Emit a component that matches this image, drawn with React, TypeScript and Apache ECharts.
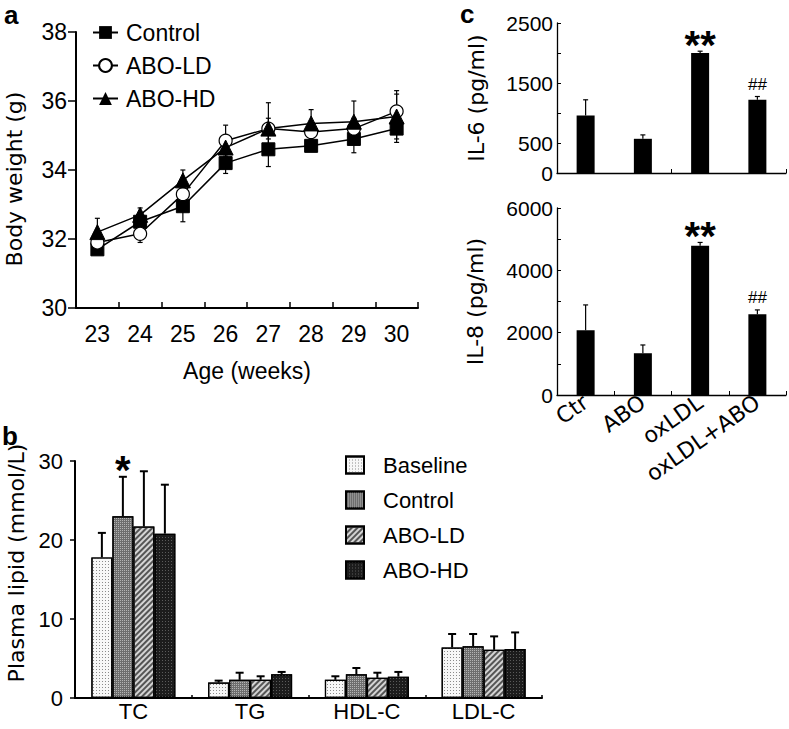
import React, { useEffect, useRef } from 'react';
import * as echarts from 'echarts';

// ---------- Panel a: body weight ----------
const weeks = ['23', '24', '25', '26', '27', '28', '29', '30'];
const controlWeight = [31.7, 32.5, 32.95, 34.2, 34.6, 34.7, 34.9, 35.2];
const controlWeightSd = [0.1, 0.15, 0.45, 0.3, 0.5, 0.15, 0.4, 0.3];
const ldWeight = [31.9, 32.15, 33.3, 34.85, 35.2, 35.1, 35.2, 35.7];
const ldWeightSd = [0.1, 0.25, 0.2, 0.45, 0.75, 0.2, 0.3, 0.5];
const hdWeight = [32.2, 32.7, 33.7, 34.65, 35.2, 35.35, 35.4, 35.55];
const hdWeightSd = [0.4, 0.2, 0.3, 0.3, 0.3, 0.4, 0.6, 0.75];

// ---------- Panel b: plasma lipid ----------
const lipidCats = ['TC', 'TG', 'HDL-C', 'LDL-C'];
const lipidGroups = ['Baseline', 'Control', 'ABO-LD', 'ABO-HD'];
const baselineLipid = [17.8, 1.95, 2.3, 6.4];
const baselineLipidSd = [3.1, 0.25, 0.45, 1.7];
const controlLipid = [23.0, 2.3, 3.0, 6.55];
const controlLipidSd = [5.0, 0.9, 0.8, 1.55];
const ldLipid = [21.7, 2.3, 2.55, 6.1];
const ldLipidSd = [7.0, 0.45, 0.65, 1.7];
const hdLipid = [20.8, 3.0, 2.7, 6.2];
const hdLipidSd = [6.2, 0.3, 0.6, 2.1];
const controlLipidMarks = ['*', '', '', ''];

// ---------- Panel c: cytokines ----------
const ilCats = ['Ctr', 'ABO', 'oxLDL', 'oxLDL+ABO'];
const il6 = [960, 570, 2000, 1220];
const il6Sd = [260, 65, 30, 55];
const il8 = [2080, 1340, 4790, 2590];
const il8Sd = [810, 265, 105, 140];
const ilMarks = ['', '', '**', '##'];

const il6TickLabels = [0, 500, 1500, 2500];
const il8TickLabels = [0, 2000, 4000, 6000];

const FONT = 'Liberation Sans, Arial, Helvetica, sans-serif';
const WIDE = 'DejaVu Sans, sans-serif';

const markStyles: Record<string, { size: number; weight: string; gap: number }> = {
  '*': { size: 40, weight: 'bold', gap: 7 },
  '**': { size: 40, weight: 'bold', gap: 6 },
  '##': { size: 17, weight: 'normal', gap: 12 },
};

function errorBars(opts: { both: boolean; cap: number; width: number; offset: number; marks?: string[] }) {
  return (params: any, api: any) => {
    const i = api.value(0);
    const v = api.value(1);
    const e = api.value(2);
    const top = api.coord([i, v + e]);
    const low = api.coord([i, opts.both ? v - e : v]);
    const x = top[0] + opts.offset;
    const st = { stroke: '#000', lineWidth: opts.width };
    const children: any[] = [
      { type: 'line', shape: { x1: x, y1: top[1], x2: x, y2: low[1] }, style: st },
      { type: 'line', shape: { x1: x - opts.cap / 2, y1: top[1], x2: x + opts.cap / 2, y2: top[1] }, style: st },
    ];
    if (opts.both) {
      children.push({ type: 'line', shape: { x1: x - opts.cap / 2, y1: low[1], x2: x + opts.cap / 2, y2: low[1] }, style: st });
    }
    const m = opts.marks ? opts.marks[params.dataIndex] : '';
    if (m) {
      const ms = markStyles[m];
      children.push({
        type: 'text',
        x,
        y: top[1] - ms.gap,
        style: { text: m, fill: '#000', fontSize: ms.size, fontWeight: ms.weight, fontFamily: FONT, align: 'center', verticalAlign: 'middle' },
      });
    }
    return { type: 'group', children };
  };
}

const triples = (vals: number[], sd: number[]) => vals.map((v, i) => [i, v, sd[i]]);

function buildOption(): any {
  const axisLineA = { show: true, lineStyle: { color: '#000', width: 2 } };
  const axisLineC = { show: true, lineStyle: { color: '#000', width: 1.3 } };

  const lipidData = [baselineLipid, controlLipid, ldLipid, hdLipid];
  const lipidSd = [baselineLipidSd, controlLipidSd, ldLipidSd, hdLipidSd];
  const lipidStyles = [
    { color: '#f7f7f7', decal: { symbol: 'rect', dashArrayX: [1, 2], dashArrayY: [1, 2], color: '#8a8a8a' } },
    { color: '#6e6e6e', decal: { symbol: 'rect', dashArrayX: [1, 1], dashArrayY: [1, 1], color: '#b4b4b4' } },
    { color: '#d4d4d4', decal: { symbol: 'rect', dashArrayX: [1, 0], dashArrayY: [2, 2], rotation: -Math.PI / 4, color: '#555555' } },
    { color: '#1c1c1c', decal: { symbol: 'rect', dashArrayX: [1, 2], dashArrayY: [1, 2], color: '#5a5a5a' } },
  ];
  const barW = 21;

  const series: any[] = [];

  // Panel a error bars (beneath markers)
  [controlWeightSd, ldWeightSd, hdWeightSd].forEach((sd, k) => {
    const vals = [controlWeight, ldWeight, hdWeight][k];
    series.push({
      type: 'custom', name: 'err-a-' + k, xAxisIndex: 0, yAxisIndex: 0, z: 2,
      renderItem: errorBars({ both: true, cap: 5, width: 1.2, offset: 0 }),
      encode: { x: 0, y: 1 }, data: triples(vals, sd),
    });
  });
  series.push(
    {
      type: 'line', name: 'Control', xAxisIndex: 0, yAxisIndex: 0, z: 4, data: controlWeight,
      symbol: 'rect', symbolSize: 13, lineStyle: { color: '#000', width: 1.5 }, itemStyle: { color: '#000', borderColor: '#000' },
    },
    {
      type: 'line', name: 'ABO-LD', xAxisIndex: 0, yAxisIndex: 0, z: 4, data: ldWeight,
      symbol: 'circle', symbolSize: 13, lineStyle: { color: '#000', width: 1.5 }, itemStyle: { color: '#fff', borderColor: '#000', borderWidth: 1.2 },
    },
    {
      type: 'line', name: 'ABO-HD', xAxisIndex: 0, yAxisIndex: 0, z: 4, data: hdWeight,
      symbol: 'triangle', symbolSize: 15, lineStyle: { color: '#000', width: 1.5 }, itemStyle: { color: '#000', borderColor: '#000' },
    },
  );

  // Panel c
  series.push(
    { type: 'bar', name: 'IL-6', xAxisIndex: 1, yAxisIndex: 1, data: il6, barWidth: 18, itemStyle: { color: '#000' } },
    {
      type: 'custom', name: 'err-il6', xAxisIndex: 1, yAxisIndex: 1, z: 5,
      renderItem: errorBars({ both: false, cap: 5, width: 1.2, offset: 0, marks: ilMarks }),
      encode: { x: 0, y: 1 }, data: triples(il6, il6Sd),
    },
    { type: 'bar', name: 'IL-8', xAxisIndex: 2, yAxisIndex: 2, data: il8, barWidth: 18, itemStyle: { color: '#000' } },
    {
      type: 'custom', name: 'err-il8', xAxisIndex: 2, yAxisIndex: 2, z: 5,
      renderItem: errorBars({ both: false, cap: 5, width: 1.2, offset: 0, marks: ilMarks }),
      encode: { x: 0, y: 1 }, data: triples(il8, il8Sd),
    },
  );

  // Panel b
  lipidGroups.forEach((g, k) => {
    series.push({
      type: 'bar', name: 'b:' + g, xAxisIndex: 3, yAxisIndex: 3, data: lipidData[k],
      barWidth: barW, barGap: '0%',
      itemStyle: { ...lipidStyles[k], borderColor: '#000', borderWidth: 1.2 },
    });
  });
  lipidGroups.forEach((g, k) => {
    series.push({
      type: 'custom', name: 'err-b-' + k, xAxisIndex: 3, yAxisIndex: 3, z: 5,
      renderItem: errorBars({ both: false, cap: 8, width: 2, offset: (k - 1.5) * barW, marks: k === 1 ? controlLipidMarks : undefined }),
      encode: { x: 0, y: 1 }, data: triples(lipidData[k], lipidSd[k]),
    });
  });

  return {
    animation: false,
    backgroundColor: '#fff',
    textStyle: { fontFamily: FONT, color: '#000' },
    grid: [
      { left: 76, top: 32, width: 342, height: 276, outerBoundsMode: 'none' },
      { left: 557, top: 23, width: 229, height: 150, outerBoundsMode: 'none' },
      { left: 557, top: 208, width: 229, height: 187, outerBoundsMode: 'none' },
      { left: 75, top: 461, width: 467, height: 237, outerBoundsMode: 'none' },
    ],
    xAxis: [
      {
        type: 'category', gridIndex: 0, data: weeks, boundaryGap: true,
        axisLine: axisLineA, axisTick: { show: true, inside: true, length: 6, lineStyle: { color: '#000', width: 1.5 } },
        axisLabel: { fontSize: 23, color: '#000', margin: 14, fontFamily: FONT },
        name: 'Age (weeks)', nameLocation: 'middle', nameGap: 51,
        nameTextStyle: { fontSize: 23, color: '#000', fontFamily: FONT },
        splitLine: { show: false },
      },
      {
        type: 'category', gridIndex: 1, data: ilCats, boundaryGap: true,
        axisLine: axisLineC, axisTick: { show: true, inside: true, length: 4, lineStyle: { color: '#000', width: 1 } },
        axisLabel: { show: false }, splitLine: { show: false },
      },
      {
        type: 'category', gridIndex: 2, data: ilCats, boundaryGap: true,
        axisLine: axisLineC, axisTick: { show: true, inside: true, length: 4, lineStyle: { color: '#000', width: 1 } },
        axisLabel: { fontSize: 22, color: '#000', rotate: 35, margin: 5, interval: 0, fontFamily: WIDE },
        splitLine: { show: false },
      },
      {
        type: 'category', gridIndex: 3, data: lipidCats, boundaryGap: true,
        axisLine: axisLineA, axisTick: { show: true, inside: true, length: 3, lineStyle: { color: '#000', width: 1.5 } },
        axisLabel: { fontSize: 22, color: '#000', margin: 2, interval: 0, fontFamily: FONT },
        splitLine: { show: false },
      },
    ],
    yAxis: [
      {
        type: 'value', gridIndex: 0, min: 30, max: 38, interval: 2,
        axisLine: axisLineA, axisTick: { show: true, inside: false, length: 8, lineStyle: { color: '#000', width: 1.5 } },
        axisLabel: { fontSize: 23, color: '#000', margin: 9, fontFamily: FONT },
        splitLine: { show: false },
        name: 'Body weight (g)', nameLocation: 'middle', nameGap: 51, nameRotate: 90,
        nameTextStyle: { fontSize: 22, color: '#000', fontFamily: WIDE, padding: [0, 18, 0, 0] },
      },
      {
        type: 'value', gridIndex: 1, min: 0, max: 2500, interval: 500,
        axisLine: axisLineC, axisTick: { show: true, inside: true, length: 4, lineStyle: { color: '#000', width: 1 } },
        axisLabel: {
          fontSize: 21, color: '#000', margin: 4, fontFamily: FONT,
          formatter: (v: number) => (il6TickLabels.includes(v) ? String(v) : ''),
        },
        splitLine: { show: false },
        name: 'IL-6 (pg/ml)', nameLocation: 'middle', nameGap: 70, nameRotate: 90,
        nameTextStyle: { fontSize: 22, color: '#000', fontFamily: WIDE },
      },
      {
        type: 'value', gridIndex: 2, min: 0, max: 6000, interval: 1000,
        axisLine: axisLineC, axisTick: { show: true, inside: true, length: 4, lineStyle: { color: '#000', width: 1 } },
        axisLabel: {
          fontSize: 21, color: '#000', margin: 4, fontFamily: FONT,
          formatter: (v: number) => (il8TickLabels.includes(v) ? String(v) : ''),
        },
        splitLine: { show: false },
        name: 'IL-8 (pg/ml)', nameLocation: 'middle', nameGap: 71, nameRotate: 90,
        nameTextStyle: { fontSize: 22, color: '#000', fontFamily: WIDE },
      },
      {
        type: 'value', gridIndex: 3, min: 0, max: 30, interval: 10,
        axisLine: axisLineA, axisTick: { show: true, inside: false, length: 5, lineStyle: { color: '#000', width: 1.5 } },
        axisLabel: { fontSize: 22, color: '#000', margin: 12, fontFamily: FONT },
        splitLine: { show: false },
        name: 'Plasma lipid (mmol/L)', nameLocation: 'middle', nameGap: 48, nameRotate: 90,
        nameTextStyle: { fontSize: 22, color: '#000', fontFamily: WIDE, padding: [0, 0, 0, 33] },
      },
    ],
    legend: [
      {
        data: ['Control', 'ABO-LD', 'ABO-HD'], orient: 'vertical', left: 87, top: 16,
        itemWidth: 25, itemHeight: 16, itemGap: 10, selectedMode: false,
        textStyle: { fontSize: 23, color: '#000', fontFamily: FONT, padding: [0, 0, 0, 3] },
      },
      {
        data: lipidGroups.map((g) => 'b:' + g), orient: 'vertical', left: 340, top: 449,
        itemWidth: 18, itemHeight: 17, itemGap: 13, icon: 'rect', selectedMode: false,
        formatter: (n: string) => n.slice(2),
        textStyle: { fontSize: 22, color: '#000', fontFamily: FONT, padding: [0, 0, 0, 14] },
      },
    ],
    graphic: [
      { type: 'text', x: 4, y: 15, style: { text: 'a', fontSize: 26, fontWeight: 'bold', fontFamily: FONT, fill: '#000', align: 'left', verticalAlign: 'middle' } },
      { type: 'text', x: 460, y: 14, style: { text: 'c', fontSize: 26, fontWeight: 'bold', fontFamily: FONT, fill: '#000', align: 'left', verticalAlign: 'middle' } },
      { type: 'text', x: 2, y: 436, style: { text: 'b', fontSize: 26, fontWeight: 'bold', fontFamily: FONT, fill: '#000', align: 'left', verticalAlign: 'middle' } },
    ],
    series,
  };
}

export default function App() {
  const ref = useRef<HTMLDivElement>(null);
  useEffect(() => {
    if (!ref.current) return;
    const chart = echarts.init(ref.current, null, { renderer: 'svg' });
    chart.setOption(buildOption());
    return () => chart.dispose();
  }, []);
  return (
    <div
      ref={ref}
      style={{ position: 'fixed', left: 0, top: 0, width: 789, height: 729, background: '#fff' }}
    />
  );
}
